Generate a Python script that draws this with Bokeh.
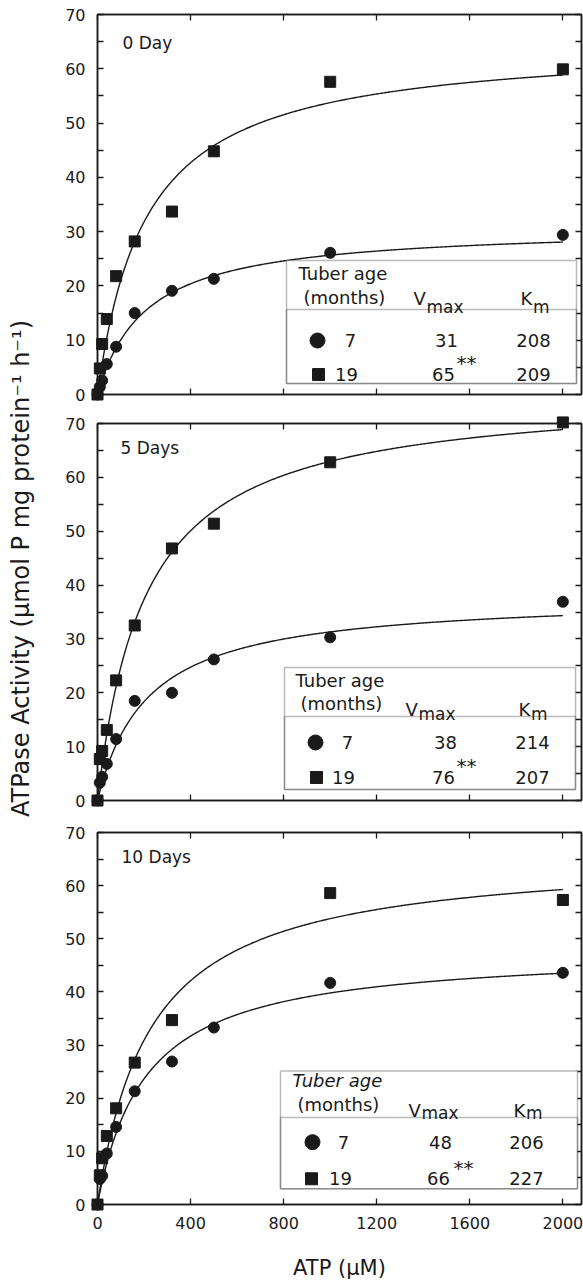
import math
import numpy as np
from bokeh.plotting import figure
from bokeh.models import (Range1d, LinearAxis, Label, BoxAnnotation, FixedTicker,
                          CustomJSTickFormatter)
from bokeh.layouts import column, row
from bokeh.embed import file_html
from bokeh.resources import INLINE

# ---------------- data ----------------
atp_um = [0, 10, 20, 40, 80, 160, 320, 500, 1000, 2000]
panel_titles = ["0 Day", "5 Days", "10 Days"]
age_labels = ["7", "19"]

act_7mo_day0 = [0, 1.4, 2.6, 5.6, 8.8, 15.0, 19.1, 21.3, 26.1, 29.4]
act_19mo_day0 = [0, 4.8, 9.3, 13.9, 21.8, 28.2, 33.7, 44.8, 57.6, 59.9]
act_7mo_day5 = [0, 3.3, 4.4, 6.8, 11.4, 18.5, 20.0, 26.2, 30.3, 36.9]
act_19mo_day5 = [0, 7.7, 9.2, 13.1, 22.3, 32.5, 46.8, 51.4, 62.8, 70.2]
act_7mo_day10 = [0, 4.8, 5.4, 9.6, 14.6, 21.3, 26.9, 33.3, 41.7, 43.6]
act_19mo_day10 = [0, 5.5, 8.7, 12.9, 18.1, 26.7, 34.7, float("nan"), 58.6, 57.3]

vmax_7mo = [31, 38, 48]
vmax_19mo = [65, 76, 66]
km_7mo = [208, 214, 206]
km_19mo = [209, 207, 227]

x_ticks = [0, 400, 800, 1200, 1600, 2000]
y_ticks = [0, 10, 20, 30, 40, 50, 60, 70]

series_7 = [act_7mo_day0, act_7mo_day5, act_7mo_day10]
series_19 = [act_19mo_day0, act_19mo_day5, act_19mo_day10]

# ---------------- layout (page pixels) ----------------
INK = "#1a1a1a"
FONT = "DejaVu Sans"
XMAX = 2080
FIG_LEFT = 38            # x where panel figures start
FRAME_L, FRAME_R = 97, 581
FRAMES = [(14, 394), (423, 800), (832, 1208)]      # y of frames
FIGS = [(0, 408), (408, 815), (815, 1282)]          # y of figures
TOTAL_H = FIGS[-1][1] - FIGS[0][0]

TABLES = [
    dict(L=286, R=576, T=260, D=309, B=383, tub=(298, 273), mon=(303, 297),
         V=413, K=520, hb=298, sb=306, r1=340, r2=374, c=317, s=318,
         a1=350, a2=346, v1=446, v2=443, st=(456, 361), k=533, ital="normal"),
    dict(L=284, R=575, T=667, D=716, B=789, tub=(295, 680), mon=(300, 703),
         V=405, K=518, hb=709, sb=713, r1=742, r2=777, c=315, s=316,
         a1=347, a2=343, v1=445, v2=443, st=(456, 764), k=532, ital="normal"),
    dict(L=280, R=577, T=1073, D=1120, B=1192, tub=(292, 1083), mon=(297, 1107),
         V=408, K=513, hb=1113, sb=1116, r1=1145, r2=1182, c=312, s=311,
         a1=343, a2=340, v1=440, v2=438, st=(453, 1170), k=526, ital="italic"),
]
TITLE_POS = [(122, 42), (120, 447), (121, 857)]


def dx(px):
    return (px - FRAME_L) * XMAX / (FRAME_R - FRAME_L)


def dy(i, py):
    top, bot = FRAMES[i]
    return (bot - py) * 70.0 / (bot - top)


def style_axis(ax, ticks, minor, show_labels):
    ax.ticker = FixedTicker(ticks=ticks, minor_ticks=minor)
    ax.axis_line_color = INK
    ax.axis_line_width = 1.5
    ax.major_tick_in = 6
    ax.major_tick_out = 0
    ax.minor_tick_in = 6
    ax.minor_tick_out = 0
    ax.major_tick_line_color = INK
    ax.major_tick_line_width = 1.3
    ax.minor_tick_line_color = INK
    ax.minor_tick_line_width = 1.3
    ax.major_label_text_font = FONT
    ax.major_label_text_color = INK
    ax.major_label_text_font_size = "16px"
    if show_labels:
        ax.major_label_standoff = 12
    else:
        ax.formatter = CustomJSTickFormatter(code="return ''")
        ax.major_label_standoff = 0


def label(p, i, px, py, text, size=18, align="left", baseline="middle", style="normal"):
    p.add_layout(Label(x=dx(px), y=dy(i, py), text=text, text_font=FONT,
                       text_font_size=f"{size}px", text_align=align,
                       text_baseline=baseline, text_color=INK,
                       text_font_style=style))


def make_panel(i):
    ftop, fbot = FIGS[i]
    top, bot = FRAMES[i]
    last = i == 2
    p = figure(width=583 - FIG_LEFT, height=fbot - ftop,
               x_range=Range1d(0, XMAX), y_range=Range1d(0, 70),
               output_backend="svg", toolbar_location=None,
               min_border_left=FRAME_L - FIG_LEFT, min_border_right=583 - FRAME_R,
               min_border_top=top - ftop, min_border_bottom=fbot - bot)
    p.grid.visible = False
    p.outline_line_color = INK
    p.outline_line_width = 1.5
    p.background_fill_color = "white"
    p.border_fill_color = "white"

    y_minor = [t + 5 for t in y_ticks[:-1]]
    bottom_ax = p.xaxis[0]
    left_ax = p.yaxis[0]
    style_axis(bottom_ax, x_ticks, [], last)
    style_axis(left_ax, y_ticks, y_minor, True)
    top_ax = LinearAxis()
    style_axis(top_ax, x_ticks, [], False)
    p.add_layout(top_ax, "above")
    right_ax = LinearAxis()
    style_axis(right_ax, y_ticks, y_minor, False)
    p.add_layout(right_ax, "right")
    if last:
        bottom_ax.axis_label = "ATP (\u03bcM)"
        bottom_ax.axis_label_text_font = FONT
        bottom_ax.axis_label_text_font_size = "21px"
        bottom_ax.axis_label_text_font_style = "normal"
        bottom_ax.axis_label_text_color = INK
        bottom_ax.axis_label_standoff = 24

    # fitted Michaelis-Menten curves from the printed Vmax / Km
    xc = np.linspace(0, 2000, 401)
    for vm, km in ((vmax_7mo[i], km_7mo[i]), (vmax_19mo[i], km_19mo[i])):
        p.line(xc, vm * xc / (km + xc), line_color=INK, line_width=1.4)

    r1 = p.scatter(atp_um, series_7[i], marker="circle", size=11,
                   fill_color=INK, line_color=INK)
    r2 = p.scatter(atp_um, series_19[i], marker="square", size=11,
                   fill_color=INK, line_color=INK)
    r1.level = "overlay"
    r2.level = "overlay"

    # panel title
    tx, ty = TITLE_POS[i]
    label(p, i, tx, ty, panel_titles[i], size=17)

    # inset table
    t = TABLES[i]
    p.add_layout(BoxAnnotation(left=dx(t["L"]), right=dx(t["R"]), top=dy(i, t["T"]),
                               bottom=dy(i, t["B"]), fill_color="white", fill_alpha=1.0,
                               line_color=INK, line_width=1.5))
    p.add_layout(BoxAnnotation(left=dx(t["L"]), right=dx(t["R"]), top=dy(i, t["D"]),
                               bottom=dy(i, t["B"]), fill_alpha=0.0,
                               line_color=INK, line_width=1.5))
    label(p, i, t["tub"][0], t["tub"][1], "Tuber age", style=t["ital"])
    label(p, i, t["mon"][0], t["mon"][1], "(months)")
    label(p, i, t["V"], t["hb"], "V", baseline="alphabetic")
    label(p, i, t["V"] + 13, t["sb"], "max", size=17, baseline="alphabetic")
    label(p, i, t["K"], t["hb"], "K", baseline="alphabetic")
    label(p, i, t["K"] + 12.5, t["sb"], "m", size=17, baseline="alphabetic")

    kc = p.scatter([dx(t["c"])], [dy(i, t["r1"])], marker="circle", size=15,
                   fill_color=INK, line_color=INK)
    ks = p.scatter([dx(t["s"])], [dy(i, t["r2"])], marker="square", size=12,
                   fill_color=INK, line_color=INK)
    kc.level = "overlay"
    ks.level = "overlay"
    label(p, i, t["a1"], t["r1"], age_labels[0], align="center")
    label(p, i, t["a2"], t["r2"], age_labels[1], align="center")
    label(p, i, t["v1"], t["r1"], str(vmax_7mo[i]), align="center")
    label(p, i, t["v2"], t["r2"], str(vmax_19mo[i]), align="center")
    label(p, i, t["st"][0], t["st"][1] + 1, "**", size=20, baseline="alphabetic")
    label(p, i, t["k"], t["r1"], str(km_7mo[i]), align="center")
    label(p, i, t["k"], t["r2"], str(km_19mo[i]), align="center")
    return p


panels = [make_panel(i) for i in range(3)]

ylab = figure(width=FIG_LEFT, height=TOTAL_H,
              x_range=Range1d(0, FIG_LEFT), y_range=Range1d(TOTAL_H, 0),
              output_backend="svg", toolbar_location=None,
              x_axis_location=None, y_axis_location=None, min_border=0)
ylab.grid.visible = False
ylab.outline_line_color = None
ylab.add_layout(Label(x=20, y=568, angle=math.pi / 2,
                      text="ATPase Activity (\u03bcmol P mg protein\u207b\u00b9 h\u207b\u00b9)",
                      text_font=FONT, text_font_size="24px", text_color=INK,
                      text_align="center", text_baseline="middle"))

layout = row(ylab, column(*panels, spacing=0), spacing=0)

with open("out.html", "w") as f:
    f.write(file_html(layout, INLINE))
